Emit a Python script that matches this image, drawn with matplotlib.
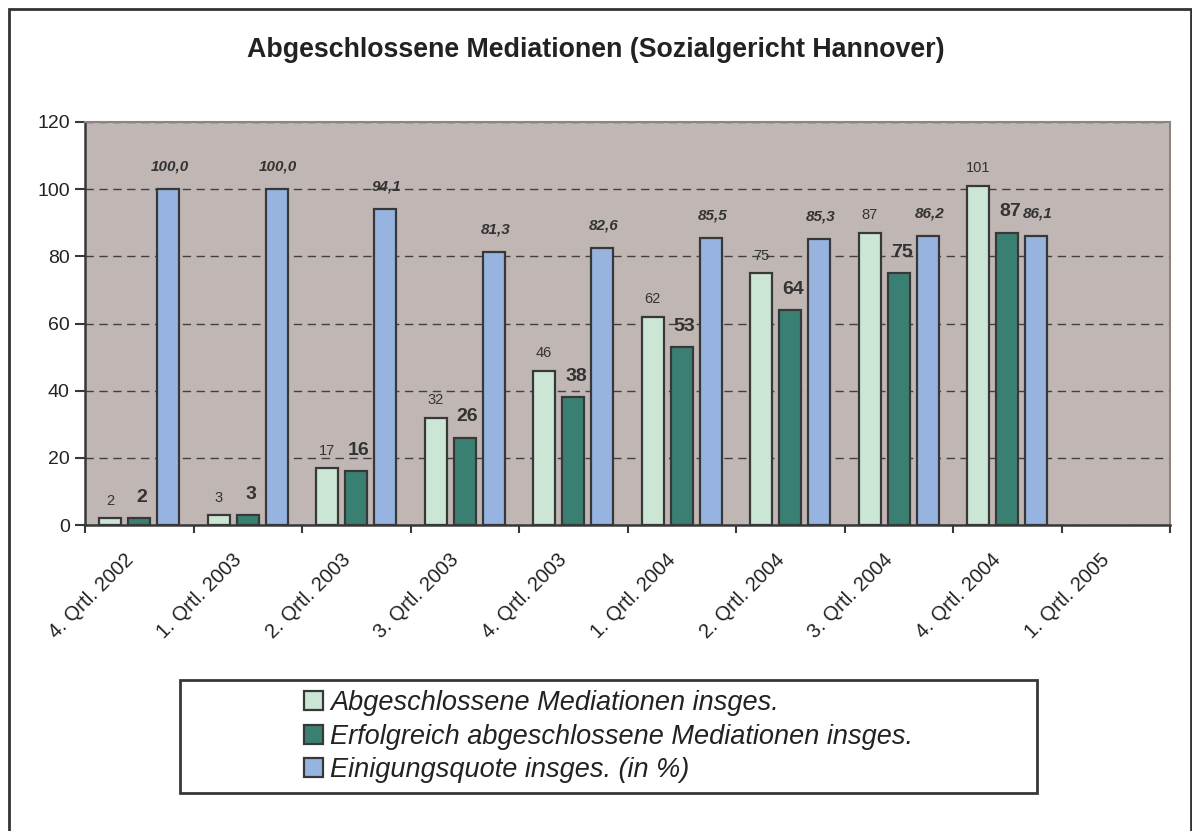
import numpy as np
import matplotlib
matplotlib.use("Agg")
import matplotlib.pyplot as plt
import matplotlib.transforms as mtransforms
from matplotlib.patches import Rectangle, Patch

plt.rcParams['font.family'] = ['Liberation Sans', 'DejaVu Sans']

categories = ["4. Qrtl. 2002", "1. Qrtl. 2003", "2. Qrtl. 2003", "3. Qrtl. 2003",
              "4. Qrtl. 2003", "1. Qrtl. 2004", "2. Qrtl. 2004", "3. Qrtl. 2004",
              "4. Qrtl. 2004", "1. Qrtl. 2005"]
total = [2, 3, 17, 32, 46, 62, 75, 87, 101, np.nan]
success = [2, 3, 16, 26, 38, 53, 64, 75, 87, np.nan]
quote = [100.0, 100.0, 94.1, 81.3, 82.6, 85.5, 85.3, 86.2, 86.1, np.nan]
series_names = ["Abgeschlossene Mediationen insges.",
                "Erfolgreich abgeschlossene Mediationen insges.",
                "Einigungsquote insges. (in %)"]
title = "Abgeschlossene Mediationen (Sozialgericht Hannover)"

c_light = "#CCE6D5"
c_dark = "#3A8072"
c_blue = "#96B4DF"
c_bg = "#C0B7B5"
c_edge = "#383838"

W, H = 1192, 831
fig = plt.figure(figsize=(W / 100, H / 100), dpi=100)
fig.patch.set_facecolor("white")

ax = fig.add_axes([85 / W, 1 - 525 / H, (1170 - 85) / W, (525 - 122) / H])
ax.set_facecolor(c_bg)

x = np.arange(len(categories))
bw = 0.2
sp = 0.268
ax.bar(x - sp, total, bw, color=c_light, edgecolor=c_edge, linewidth=1.6, zorder=3)
ax.bar(x, success, bw, color=c_dark, edgecolor=c_edge, linewidth=1.6, zorder=3)
ax.bar(x + sp, quote, bw, color=c_blue, edgecolor=c_edge, linewidth=1.6, zorder=3)

for xi, v in zip(x, total):
    if not np.isnan(v):
        ax.annotate(f"{v:g}", (xi - sp, v), xytext=(0, 12.5), textcoords="offset points",
                    ha="center", va="center", fontsize=10.5, color="#333333", zorder=4)
for xi, v in zip(x, success):
    if not np.isnan(v):
        ax.annotate(f"{v:g}", (xi, v), xytext=(2, 15), textcoords="offset points",
                    ha="center", va="center", fontsize=14, fontweight="bold",
                    color="#333333", zorder=4)
for xi, v in zip(x, quote):
    if not np.isnan(v):
        ax.annotate(f"{v:.1f}".replace(".", ","), (xi + sp, v), xytext=(1, 16),
                    textcoords="offset points", ha="center", va="center", fontsize=11,
                    fontweight="bold", fontstyle="italic", color="#333333", zorder=4)

ax.set_xlim(-0.5, len(categories) - 0.5)
ax.set_ylim(0, 120)
ax.set_yticks(np.arange(0, 121, 20))
ax.tick_params(axis="y", labelsize=14, length=7, width=1.5, color=c_edge,
               labelcolor="#222222", pad=4)

ax.set_xticks(np.arange(-0.5, len(categories), 1.0))
ax.set_xticklabels([])
ax.tick_params(axis="x", which="major", length=6, width=1.5, color=c_edge)
ax.set_xticks(x, minor=True)
ax.set_xticklabels(categories, minor=True, rotation=45, ha="right", va="center",
                   rotation_mode="anchor", fontsize=14.5, color="#222222")
ax.tick_params(axis="x", which="minor", length=0, pad=0)
off = mtransforms.ScaledTranslation(-9 / 100, -32 / 100, fig.dpi_scale_trans)
for lbl in ax.xaxis.get_minorticklabels():
    lbl.set_transform(lbl.get_transform() + off)

ax.yaxis.grid(True, linestyle=(0, (6, 4)), color="#404040", linewidth=1.0, zorder=0)
ax.set_axisbelow(True)

for s in ["left", "bottom"]:
    ax.spines[s].set_color(c_edge)
    ax.spines[s].set_linewidth(1.8)
for s in ["top", "right"]:
    ax.spines[s].set_color("#8E8482")
    ax.spines[s].set_linewidth(1.5)

fig.text(0.5, 1 - 57 / H, title, ha="center", va="baseline", fontsize=19.3,
         fontweight="bold", color="#222222")

# legend box
bx0, bx1, by0, by1 = 180, 1037, 680, 793
fig.patches.append(Rectangle((bx0 / W, 1 - by1 / H), (bx1 - bx0) / W, (by1 - by0) / H,
                             transform=fig.transFigure, facecolor="white",
                             edgecolor=c_edge, linewidth=2, zorder=1))
handles = [Patch(facecolor=c, edgecolor=c_edge, linewidth=1.6)
           for c in (c_light, c_dark, c_blue)]
leg = fig.legend(handles, series_names, loc="center",
                 bbox_to_anchor=((bx0 + bx1) / 2 / W, 1 - (by0 + by1) / 2 / H),
                 frameon=False, prop={"size": 19.5, "style": "italic"},
                 handlelength=0.7, handleheight=0.7, handletextpad=0.25,
                 labelspacing=0.27, borderpad=0, labelcolor="#222222")
leg.set_zorder(2)

# outer frame
fig.patches.append(Rectangle((9 / W, -0.01), (1191 - 9) / W, 1 - 9 / H + 0.01,
                             transform=fig.transFigure, facecolor="none",
                             edgecolor="#333333", linewidth=2, zorder=0))

fig.savefig("out.png", dpi=100)
